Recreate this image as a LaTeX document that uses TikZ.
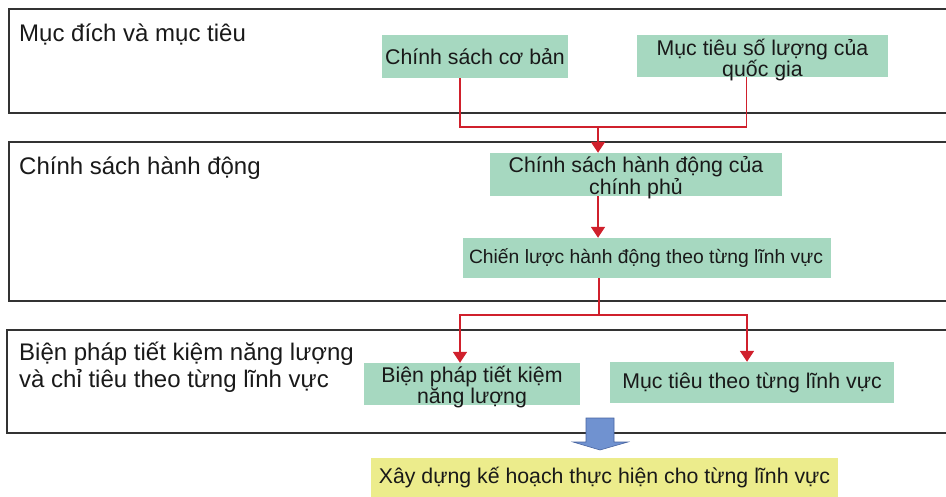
\documentclass[tikz,border=0pt]{standalone}
\usepackage{fontspec}
\setmainfont{Liberation Sans}
\usetikzlibrary{arrows.meta}

\definecolor{boxgreen}{RGB}{166,216,192}
\definecolor{boxyellow}{RGB}{236,236,140}
\definecolor{flowred}{RGB}{208,32,44}
\definecolor{bluefill}{RGB}{112,146,208}
\definecolor{blueedge}{RGB}{72,100,160}

\begin{document}
\begin{tikzpicture}[x=1pt,y=-1pt,
    band/.style={draw=black!80, line width=1.1pt},
    bandtext/.style={font=\fontsize{24}{28}\selectfont, align=left, anchor=base west, inner sep=0pt, text=black!90},
    greenbox/.style={fill=boxgreen, inner sep=0pt},
    boxtext/.style={font=\fontsize{21.3}{20}\selectfont, align=center, inner sep=0pt, text=black!90},
    flowline/.style={draw=flowred, line width=1.8pt},
    flow/.style={flowline, -{Triangle[length=11pt,width=14pt]}}]
    \useasboundingbox (0,0) rectangle (946,497);
    \clip (0,0) rectangle (946,497);

    \draw[band] (9,9) rectangle (960,113);
    \draw[band] (9,142) rectangle (960,301);
    \draw[band] (7,330) rectangle (960,433);

    \node[bandtext] (muc) at (19,42) {Mục đích và mục tiêu};
    \node[bandtext] (chinhsach) at (19,175) {Chính sách hành động};
    \node[bandtext] (bienphapband) at (19,388) {Biện pháp tiết kiệm năng lượng\\và chỉ tiêu theo từng lĩnh vực};

    \node[greenbox, minimum width=186pt, minimum height=43pt] (cosban) at (475,56.5) {};
    \node[boxtext] (cosbant) at (cosban) {Chính sách cơ bản};
    \node[greenbox, minimum width=251pt, minimum height=42pt] (soluong) at (762.5,56) {};
    \node[boxtext] (soluongt) at ([yshift=-4pt]soluong.center) {Mục tiêu số lượng của\\quốc gia};

    \node[greenbox, minimum width=292pt, minimum height=43pt] (hanhdong) at (636,174.5) {};
    \node[boxtext] (hanhdongt) at ([yshift=-3pt]hanhdong.center) {Chính sách hành động của\\chính phủ};
    \node[greenbox, minimum width=368pt, minimum height=40pt] (chienluoc) at (647,258) {};
    \node[boxtext, font=\fontsize{19.3}{20}\selectfont] (chienluoct) at ([xshift=-1pt]chienluoc.center) {Chiến lược hành động theo từng lĩnh vực};

    \node[greenbox, minimum width=216pt, minimum height=42pt] (bienphap) at (472,384) {};
    \node[boxtext] (bienphapt) at ([yshift=-3pt]bienphap.center) {Biện pháp tiết kiệm\\năng lượng};
    \node[greenbox, minimum width=284pt, minimum height=41pt] (linhvuc) at (752,382.5) {};
    \node[boxtext] (linhvuct) at (linhvuc) {Mục tiêu theo từng lĩnh vực};

    \node[fill=boxyellow, minimum width=467pt, minimum height=40pt, inner sep=0pt] (xaydung) at (604.5,478) {};
    \node[boxtext] (xaydungt) at (xaydung) {Xây dựng kế hoạch thực hiện cho từng lĩnh vực};

    \coordinate (j1) at (598,127);
    \coordinate (j2) at (599,315);
    \draw[flowline] ([xshift=-15pt]cosban.south) |- (j1);
    \draw[flowline] ([xshift=-16pt]soluong.south) |- (j1);
    \draw[flow] (j1) -- (j1 |- hanhdong.north);
    \draw[flow] (hanhdong.south -| j1) -- (chienluoc.north -| j1);
    \draw[flowline] (chienluoc.south -| j2) -- (j2);
    \draw[flow] (j2) -| ([xshift=-12pt]bienphap.north);
    \draw[flow] (j2) -| ([xshift=-5pt]linhvuc.north);

    \draw[fill=bluefill, draw=blueedge, line width=0.6pt]
      (586,418) -- (614,418) -- (614,442) -- (628,442) -- (600,450)
      -- (573,442) -- (586,442) -- cycle;
\end{tikzpicture}
\end{document}
